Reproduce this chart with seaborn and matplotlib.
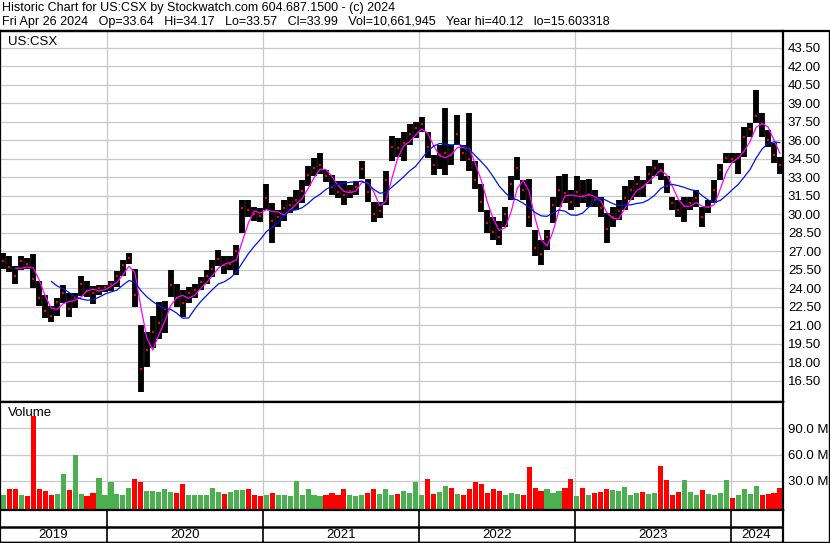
import numpy as np
import pandas as pd
import seaborn as sns
import matplotlib.pyplot as plt
from matplotlib.lines import Line2D

W, H = 830, 543

# biweekly samples (split-adjusted USD)
dates = pd.date_range('2019-05-03', periods=131, freq='14D')

high = [26.9, 26.6, 25.8, 26.6, 26.5, 26.8, 24.6, 23.5, 22.6, 23.2,
        24.3, 23.6, 23.6, 25.0, 24.6, 24.2, 24.3, 24.3, 24.6, 25.4,
        26.3, 26.9, 25.6, 21.0, 20.5, 21.8, 22.9, 23.0, 25.5, 24.4,
        23.9, 24.1, 24.4, 24.95, 25.5, 26.3, 27.1, 26.6, 26.6, 27.5,
        31.2, 31.2, 30.6, 30.5, 32.5, 30.9, 30.4, 31.2, 31.4, 32.0,
        32.8, 33.9, 34.55, 35.0, 33.6, 33.2, 32.7, 32.7, 32.4, 32.7,
        34.3, 32.9, 31.0, 31.0, 33.5, 36.4, 36.2, 36.7, 37.3, 37.5,
        37.9, 36.7, 34.8, 35.6, 38.6, 35.6, 38.1, 35.6, 38.2, 34.3,
        32.5, 30.4, 29.8, 29.5, 30.6, 33.1, 34.7, 32.8, 32.9, 28.7,
        27.9, 28.7, 31.45, 33.1, 33.3, 32.0, 33.1, 32.8, 32.9, 32.0,
        31.45, 30.1, 30.6, 31.2, 32.3, 32.8, 33.1, 32.8, 33.9, 34.4,
        34.2, 33.1, 31.45, 31.2, 31.45, 31.45, 32.0, 30.6, 31.2, 32.8,
        34.1, 35.0, 35.0, 35.0, 37.1, 37.4, 40.1, 38.2, 36.85, 35.8,
        34.7]

low = [25.6, 25.3, 24.4, 25.5, 25.6, 24.0, 22.6, 21.6, 21.3, 21.8,
       22.8, 21.7, 22.4, 23.4, 23.3, 22.7, 23.5, 23.7, 23.8, 24.1,
       25.0, 26.0, 22.5, 15.6, 17.6, 19.2, 19.9, 20.4, 23.3, 22.5,
       21.7, 22.8, 23.2, 23.9, 24.4, 24.95, 25.8, 25.2, 25.5, 25.1,
       28.5, 29.8, 29.5, 29.4, 30.4, 27.7, 29.0, 29.5, 30.1, 30.4,
       30.9, 32.3, 33.1, 33.3, 32.6, 31.6, 31.3, 30.8, 31.3, 31.6,
       32.9, 31.0, 29.4, 29.7, 30.8, 34.3, 34.7, 34.3, 35.6, 36.2,
       36.7, 34.6, 33.2, 33.7, 33.2, 34.0, 35.6, 34.3, 33.5, 32.1,
       30.2, 28.5, 27.9, 27.5, 29.0, 31.2, 32.8, 31.2, 29.0, 26.6,
       25.9, 27.1, 29.3, 30.6, 30.9, 30.4, 30.6, 30.9, 30.6, 30.6,
       29.8, 27.7, 29.0, 29.55, 30.4, 31.2, 31.45, 31.45, 32.5, 33.1,
       32.8, 31.7, 30.4, 29.8, 29.4, 30.4, 30.6, 29.0, 30.1, 30.9,
       32.8, 34.15, 34.15, 33.3, 34.7, 36.3, 37.4, 36.3, 35.5, 34.15,
       33.3]

close = [26.2, 25.7, 25.0, 26.2, 26.0, 24.8, 23.2, 22.2, 21.8, 22.9,
         23.6, 22.3, 23.2, 24.4, 23.8, 23.6, 24.0, 24.1, 24.4, 25.0,
         25.9, 26.5, 23.5, 17.5, 19.0, 20.5, 21.2, 22.3, 24.3, 23.2,
         22.8, 23.6, 23.9, 24.5, 25.0, 25.6, 26.4, 25.9, 26.0, 27.0,
         30.5, 30.4, 30.0, 29.9, 31.3, 29.5, 29.8, 30.5, 30.8, 31.2,
         31.9, 33.2, 33.8, 34.0, 33.1, 32.2, 31.8, 31.6, 31.9, 32.2,
         33.7, 31.8, 30.0, 30.3, 32.8, 35.5, 35.4, 35.8, 36.5, 37.0,
         37.3, 35.5, 34.0, 34.8, 35.0, 34.8, 36.5, 35.0, 34.5, 32.8,
         31.0, 29.3, 28.6, 28.2, 30.0, 32.5, 33.8, 32.0, 29.8, 27.3,
         26.8, 28.2, 30.8, 32.0, 31.7, 31.0, 31.8, 31.5, 31.6, 31.2,
         30.5, 28.8, 29.8, 30.3, 31.3, 32.0, 32.5, 32.2, 33.3, 33.8,
         33.6, 32.3, 30.9, 30.4, 30.7, 30.9, 31.3, 29.8, 30.6, 32.0,
         33.6, 34.6, 34.5, 34.6, 36.3, 36.9, 38.0, 37.3, 36.0, 34.8,
         34.0]

# volume in millions of shares
volume = [14, 20, 20, 13, 12, 104, 20, 18, 13, 15,
          38, 19, 60, 15, 12, 16, 33, 14, 29, 15,
          14, 22, 32, 28, 18, 18, 17, 20, 17, 16,
          26, 14, 13, 14, 13, 22, 17, 15, 17, 19,
          19, 20, 14, 12, 14, 16, 13, 14, 12, 30,
          14, 20, 13, 12, 14, 16, 14, 20, 13, 12,
          14, 16, 21, 15, 20, 14, 15, 18, 16, 28,
          14, 32, 15, 17, 24, 22, 15, 14, 20, 28,
          26, 16, 20, 18, 14, 16, 15, 14, 46, 22,
          18, 20, 16, 18, 22, 32, 12, 22, 14, 16,
          17, 20, 19, 18, 23, 14, 16, 17, 15, 16,
          47, 31, 14, 17, 31, 17, 14, 19, 15, 14,
          16, 31, 10, 13, 20, 15, 24, 13, 15, 16,
          22]

years = [2019, 2020, 2021, 2022, 2023, 2024]
price_ticks = np.arange(16.5, 44.0, 1.5)
vol_ticks = [30, 60, 90]

title1 = 'Historic Chart for US:CSX by Stockwatch.com 604.687.1500 - (c) 2024'
title2 = ('Fri Apr 26 2024   Op=33.64   Hi=34.17   Lo=33.57   Cl=33.99   '
          'Vol=10,661,945   Year hi=40.12   lo=15.603318')

df = pd.DataFrame({'date': dates, 'high': high, 'low': low,
                   'close': close, 'volume': volume})
df['ma_short'] = df['close'].rolling(3).mean()
df['ma_long'] = df['close'].rolling(9).mean()
df['up'] = df['close'].diff().fillna(0) >= 0

sns.set_style('white')
plt.rcParams['font.family'] = ['Liberation Sans', 'DejaVu Sans']

fig = plt.figure(figsize=(W / 100, H / 100), dpi=100)


def px_axes(x0, y0, x1, y1):
    return fig.add_axes([x0 / W, 1 - y1 / H, (x1 - x0) / W, (y1 - y0) / H])


def px_text(x, y, s, size=9.0, **kw):
    fig.text(x / W, 1 - y / H, s, fontsize=size, color='black', va='center', **kw)


x_lo, x_hi = pd.Timestamp('2019-04-25'), pd.Timestamp('2024-05-03')
year_starts = [pd.Timestamp(f'{y}-01-01') for y in years[1:]]
grid_c = '#c8c8c8'

# ---- price panel
ax = px_axes(0, 31, 783, 400.5)
ax.set_xlim(x_lo, x_hi)
ax.set_ylim(43.5 - (400.5 - 48) / 12.33, 43.5 + (48 - 31) / 12.33)
ax.vlines(df['date'], df['low'], df['high'], color='black', linewidth=4.2)
ax.plot(df['date'], df['close'], 's', color='red', markersize=2.0, markeredgewidth=0)
sns.lineplot(data=df, x='date', y='ma_short', ax=ax, color='#ff00ff', linewidth=0.9)
sns.lineplot(data=df, x='date', y='ma_long', ax=ax, color='#0014e6', linewidth=0.9)
ax.set_yticks(price_ticks)
ax.set_yticklabels([f'{t:.2f}' for t in price_ticks])
ax.set_xticks(year_starts)
ax.set_xticklabels([])

# ---- volume panel
vol_floor = -3.1
axv = px_axes(0, 402, 783, 509.5)
axv.set_xlim(x_lo, x_hi)
axv.set_ylim(vol_floor, 120.4)
colors = np.where(df['up'], '#4caf50', '#ff0000')
axv.bar(df['date'], df['volume'] - vol_floor, bottom=vol_floor, width=12,
        color=colors, linewidth=0)
axv.set_yticks(vol_ticks)
axv.set_yticklabels([f'{v:.1f} M' for v in vol_ticks])
axv.set_xticks(year_starts)
axv.set_xticklabels([])

for a in (ax, axv):
    a.set_xlabel('')
    a.set_ylabel('')
    a.set_axisbelow(True)
    a.grid(True, color=grid_c, linewidth=0.9)
    a.yaxis.tick_right()
    a.tick_params(axis='y', length=0, pad=3.5, labelsize=9.5, labelcolor='black')
    a.tick_params(axis='x', length=0)
    for side in ('left', 'right', 'top'):
        a.spines[side].set_color('black')
        a.spines[side].set_linewidth(1.6)
    a.spines['bottom'].set_color('black')
    a.spines['bottom'].set_linewidth(1.0)

# ---- date strip
axd = px_axes(0, 509.5, 783, 541.5)
axd.set_xlim(x_lo, x_hi)
axd.set_ylim(0, 1)
axd.vlines(year_starts, 0, 1, color='black', linewidth=1.2)
axd.axhline((541.5 - 527) / 32, color='black', linewidth=1.8)
bounds = [x_lo] + year_starts + [pd.Timestamp('2024-05-02')]
for i, y in enumerate(years):
    mid = bounds[i] + (bounds[i + 1] - bounds[i]) / 2
    axd.text(mid, (541.5 - 534.5) / 32, str(y), ha='center', va='center',
             fontsize=9.5, color='black')
axd.set_xticks([])
axd.set_yticks([])
for side in ('left', 'right', 'top', 'bottom'):
    axd.spines[side].set_color('black')
axd.spines['top'].set_linewidth(1.6)
axd.spines['left'].set_linewidth(1.6)
axd.spines['right'].set_linewidth(1.6)
axd.spines['bottom'].set_linewidth(1.0)

# ---- header and frame
px_text(2, 8.5, title1)
px_text(2, 22, title2)
px_text(8, 42, 'US:CSX', size=9.5)
px_text(8, 413, 'Volume', size=9.5)
fig.add_artist(Line2D([0, 1], [1 - 31 / H, 1 - 31 / H], color='black', linewidth=1.6))
fig.add_artist(Line2D([0, 1], [1 - 541.5 / H, 1 - 541.5 / H], color='black', linewidth=1.0))
fig.add_artist(Line2D([1 - 1.5 / W, 1 - 1.5 / W], [1 - 31 / H, 1 - 541.5 / H],
                      color='black', linewidth=1.0))

fig.savefig('out.png', dpi=100, facecolor='white')
